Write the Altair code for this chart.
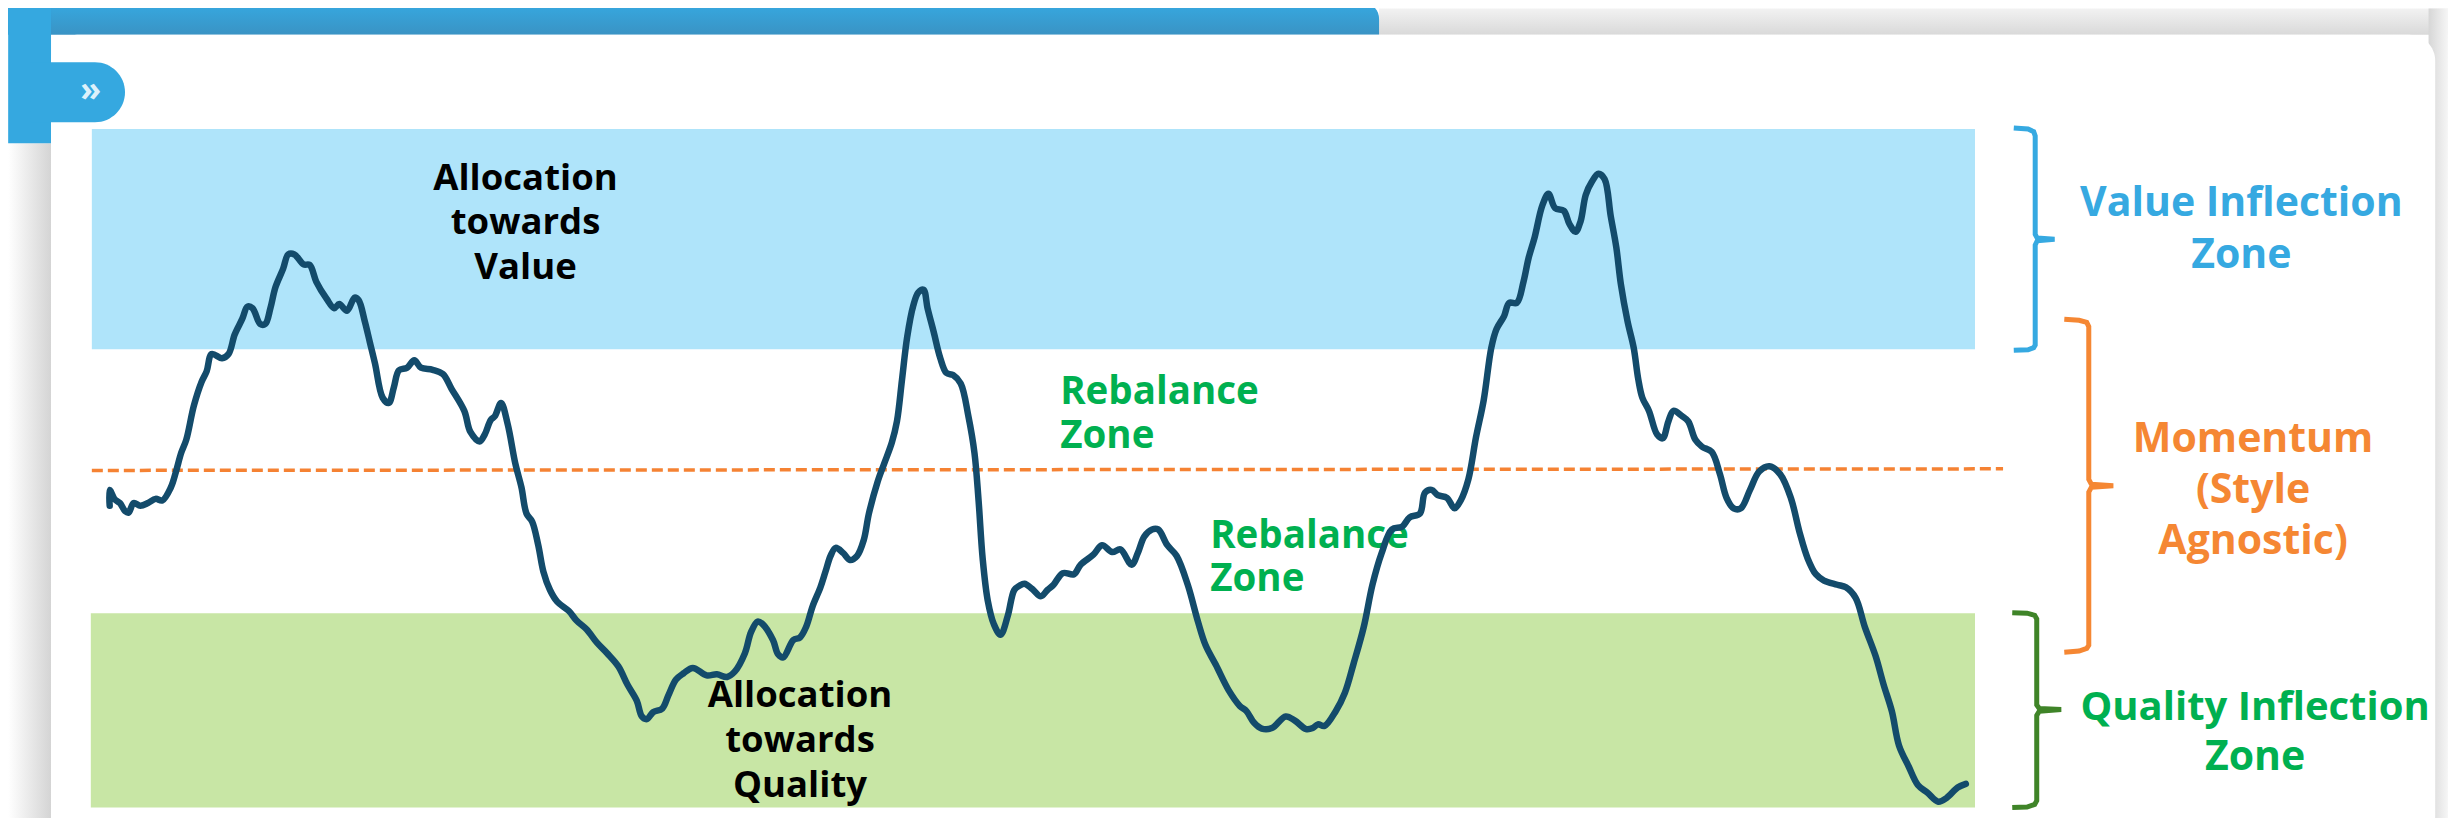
import altair as alt
import pandas as pd

# Chart units: x 0..4814 across the picture, y 0..1568 downward.
X_DOMAIN = [15.68, 4798.08]
Y_DOMAIN = [1552.8, 15.19]
FONT = "Open Sans"

line_x = [215,215,225,235,245,252,262,275,290,305,318,335,345,355,365,380,395,405,415,435,448,460,475,485,495,510,520,530,540,555,565,577,595,607,620,640,655,665,680,695,703,715,725,735,750,762,772,782,798,812,825,848,868,885,910,922,940,950,962,970,982,995,1010,1022,1032,1043,1055,1065,1078,1092,1115,1130,1150,1170,1190,1212,1230,1248,1258,1268,1280,1298,1310,1325,1340,1358,1385,1405,1425,1440,1460,1472,1485,1495,1515,1525,1535,1555,
 1568,1580,1593,1608,1618,1628,1638,1653,1666,1680,1693,1703,1720,1733,1748,1758,1768,1778,1790,1800,1810,1818,1830,1843,1855,1868,1883,1898,1910,1918,1926,1936,1948,1961,1975,1988,1998,2008,2023,2040,2053,2065,2083,2105,2118,2143,2160,2180,2196,2218,2230,2243,2258,2270,2288,2306,2328,2348,2363,2383,2408,2430,2443,2458,2473,2493,2520,2538,2560,2573,2583,2596,2618,2636,2653,2673,2690,2708,2728,2748,2763,2783,2793,2806,2818,2836,2851,2863,2878,2893,2908,2923,2933,2948,2958,2973,2986,2996,3008,3023,3035,3048,3065,3076,3088,3098,3108,3120,3133,
 3145,3157,3168,3177,3190,3202,3211,3219,3232,3248,3259,3270,3280,3297,3309,3323,3336,3355,3371,3384,3398,3412,3430,3448,3468,3489,3510,3527,3543,3559,3575,3601,3618,3637,3655,3676,3692,3708,3722,3741,3759,3778,3799,3815,3837,3853]
line_y = [960,930,948,955,970,973,955,960,955,947,950,925,895,860,835,770,725,705,672,680,672,635,605,582,585,615,615,585,545,510,483,483,502,503,535,567,585,577,590,565,570,610,650,690,755,765,735,703,698,684,698,702,710,738,780,820,838,825,797,790,765,805,880,925,975,990,1035,1085,1120,1142,1160,1178,1195,1220,1240,1265,1300,1330,1360,1365,1352,1345,1320,1290,1278,1268,1282,1280,1285,1275,1240,1200,1180,1185,1215,1242,1248,1215,
 1210,1190,1150,1115,1085,1055,1040,1050,1063,1055,1025,975,915,880,840,800,720,640,580,555,550,585,630,680,708,712,728,790,860,950,1060,1140,1185,1205,1170,1120,1112,1108,1118,1132,1120,1110,1088,1090,1072,1053,1035,1048,1043,1072,1050,1018,1005,1005,1035,1055,1110,1180,1225,1262,1310,1340,1350,1372,1383,1382,1360,1368,1384,1382,1375,1378,1350,1315,1260,1190,1110,1050,1005,1000,982,975,935,930,940,945,965,950,910,830,760,660,625,600,575,575,535,490,450,390,368,395,400,425,440,420,370,345,330,
 340,410,470,540,610,660,720,755,780,825,832,800,780,790,800,835,848,858,900,945,965,965,930,895,885,900,945,1010,1060,1090,1102,1110,1115,1135,1190,1245,1300,1350,1415,1455,1490,1505,1522,1515,1495,1488]

value_zone_x = [180, 3871]
value_zone_y = [245, 663]
quality_zone_x = [178, 3871]
quality_zone_y = [1164, 1533]
mid_x = [180, 3926]
mid_y = [893, 890]

brace_value_x = [3947,3975,3986,3989,3989,3993,4027,3993,3989,3989,3986,3975,3947]
brace_value_y = [243,245,250,258,445,452,454,457,465,655,660,664,665]
brace_mom_x = [4046,4075,4090,4094,4094,4099,4142,4099,4094,4094,4090,4075,4046]
brace_mom_y = [606,608,612,620,910,919,922,925,934,1225,1231,1236,1238]
brace_qual_x = [3944,3973,3988,3992,3992,3997,4040,3997,3992,3992,3988,3973,3944]
brace_qual_y = [1163,1164,1168,1175,1338,1345,1347,1350,1358,1520,1527,1532,1533]

labels = [
    ("Allocation", 1030, 360, "#000000", 36.5),
    ("towards", 1030, 445, "#000000", 36.5),
    ("Value", 1030, 530, "#000000", 36.5),
    ("Allocation", 1568, 1343, "#000000", 36.5),
    ("towards", 1568, 1428, "#000000", 36.5),
    ("Quality", 1568, 1513, "#000000", 36.5),
    ("Value Inflection", 4393, 410, "#36A9E1", 41),
    ("Zone", 4393, 508, "#36A9E1", 41),
    ("Momentum", 4416, 858, "#F58733", 41),
    ("(Style", 4416, 955, "#F58733", 41),
    ("Agnostic)", 4416, 1052, "#F58733", 41),
    ("Quality Inflection", 4420, 1366, "#00B050", 40),
    ("Zone", 4420, 1462, "#00B050", 41),
]
left_labels = [
    ("Rebalance", 2078, 767, "#00B050", 38.5),
    ("Zone", 2078, 850, "#00B050", 38.5),
    ("Rebalance", 2372, 1040, "#00B050", 38.5),
    ("Zone", 2372, 1122, "#00B050", 38.5),
]

xs = alt.Scale(domain=X_DOMAIN, nice=False, zero=False)
ys = alt.Scale(domain=Y_DOMAIN, nice=False, zero=False)


def rect(x0, x1, y0, y1, **mark):
    d = pd.DataFrame({"x": [x0], "x2": [x1], "y": [y0], "y2": [y1]})
    return alt.Chart(d).mark_rect(clip=True, **mark).encode(
        x=alt.X("x:Q", scale=xs, axis=None), x2="x2:Q",
        y=alt.Y("y:Q", scale=ys, axis=None), y2="y2:Q")


def grad(c0, c1, horiz=False):
    return alt.Gradient(gradient="linear", x1=0, y1=0, x2=1 if horiz else 0, y2=0 if horiz else 1,
                        stops=[alt.GradientStop(color=c0, offset=0), alt.GradientStop(color=c1, offset=1)])


def path(px, py, **mark):
    d = pd.DataFrame({"x": px, "y": py, "i": range(len(px))})
    return alt.Chart(d).mark_line(clip=True, **mark).encode(
        x=alt.X("x:Q", scale=xs, axis=None),
        y=alt.Y("y:Q", scale=ys, axis=None),
        order="i:Q")


def text_layer(rows, **mark):
    out = []
    for t, x, y, c, s in rows:
        d = pd.DataFrame({"t": [t], "x": [x], "y": [y]})
        out.append(alt.Chart(d).mark_text(font=FONT, fontWeight="bold", baseline="alphabetic",
                                          color=c, fontSize=s, **mark).encode(
            x=alt.X("x:Q", scale=xs, axis=None),
            y=alt.Y("y:Q", scale=ys, axis=None),
            text="t:N"))
    return out


BLUE = "#35A8E0"
layers = [
    rect(2703, 4798, 16, 66, color=grad("#F2F2F2", "#D9D9D9")),
    rect(4760, 4798, 16, 1553, color=grad("#D6D6D6", "#F6F6F6", True)),
    rect(16, 100, 272, 1553, color=grad("#FFFFFF", "#D4D4D4", True)),
    rect(10, 2703, 5, 66, color=grad("#36A9E1", "#3A93C4"), cornerRadiusTopRight=24),
    rect(16, 100, 5, 272, color=BLUE),
    rect(100, 4773, 66, 1600, color="#FFFFFF", cornerRadius=26),
    rect(60, 245, 118, 232, color=BLUE, cornerRadiusTopRight=30, cornerRadiusBottomRight=30),
    rect(value_zone_x[0], value_zone_x[1], value_zone_y[0], value_zone_y[1], color="#AFE4FA"),
    rect(quality_zone_x[0], quality_zone_x[1], quality_zone_y[0], quality_zone_y[1], color="#C8E6A5"),
    path(mid_x, mid_y, color="#F58233", strokeWidth=3.5, strokeDash=[11, 5]),
    path(brace_value_x, brace_value_y, color="#36A9E1", strokeWidth=5),
    path(brace_mom_x, brace_mom_y, color="#F58733", strokeWidth=5),
    path(brace_qual_x, brace_qual_y, color="#3F8428", strokeWidth=5),
]
layers += text_layer(labels, align="center")
layers += text_layer(left_labels, align="left")
layers += text_layer([("»", 178, 192, "#DDF1FB", 34)], align="center")
layers.append(path(line_x, line_y, color="#134B6B", strokeWidth=6.5, strokeJoin="round", strokeCap="round", interpolate="catmull-rom"))

chart = alt.layer(*layers).properties(
    width=2440, height=810, padding=0,
    autosize=alt.AutoSizeParams(type="none"),
).configure_view(strokeWidth=0)

chart.save("out.html", embed_options={"renderer": "svg", "actions": False})
